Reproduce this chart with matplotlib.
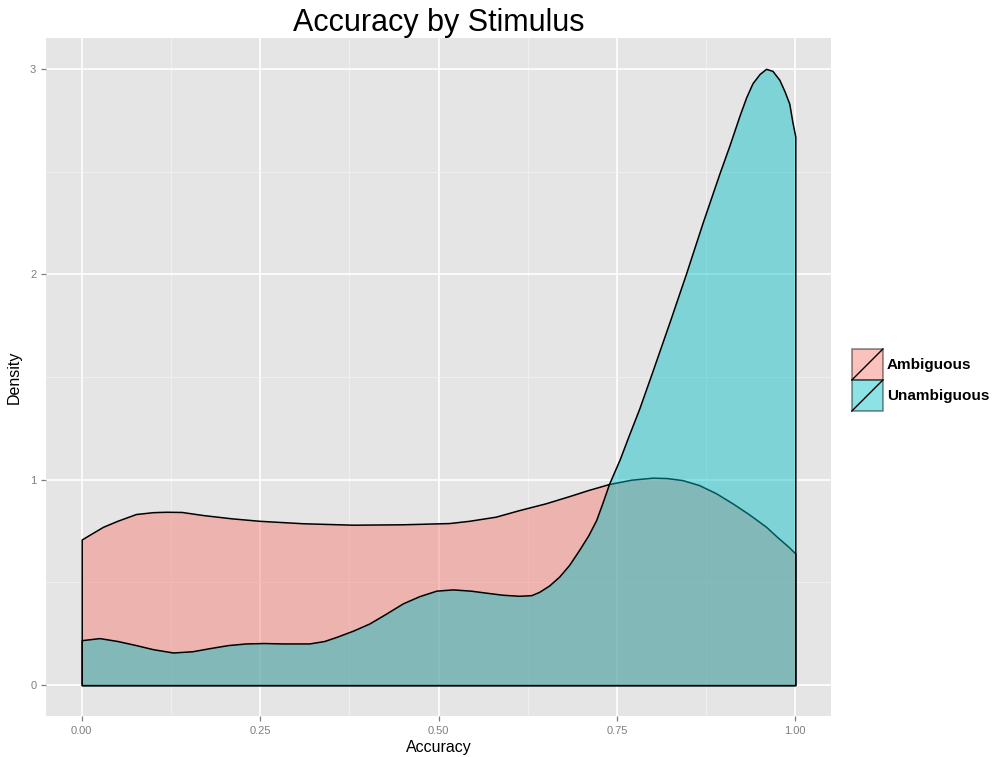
import matplotlib
matplotlib.use("Agg")
import matplotlib.pyplot as plt
from matplotlib.patches import Rectangle
from matplotlib.lines import Line2D
from matplotlib.legend_handler import HandlerBase

plt.rcParams['font.family'] = ['Liberation Sans', 'DejaVu Sans']

# values
amb_x = [0, 0.01, 0.03, 0.05, 0.076, 0.1, 0.118, 0.14, 0.17, 0.21, 0.249, 0.31, 0.38,
         0.45, 0.515, 0.543, 0.58, 0.613, 0.65, 0.683, 0.71, 0.739, 0.77, 0.80, 0.82,
         0.842, 0.865, 0.889, 0.912, 0.935, 0.959, 0.975, 0.99, 1.0]
amb_y = [0.709, 0.73, 0.771, 0.80, 0.833, 0.842, 0.844, 0.843, 0.828, 0.812, 0.80, 0.788, 0.781,
         0.783, 0.789, 0.80, 0.82, 0.852, 0.885, 0.92, 0.95, 0.979, 1.0, 1.01, 1.008,
         0.998, 0.974, 0.934, 0.885, 0.832, 0.771, 0.72, 0.675, 0.641]

unamb_x = [0, 0.025, 0.05, 0.076, 0.1, 0.128, 0.155, 0.179, 0.205, 0.23, 0.255, 0.282, 0.319,
           0.34, 0.357, 0.38, 0.403, 0.425, 0.45, 0.473, 0.497, 0.52, 0.545, 0.567, 0.59,
           0.613, 0.63, 0.641, 0.655, 0.669, 0.683, 0.697, 0.71, 0.721, 0.73, 0.739, 0.754,
           0.766, 0.7815, 0.80, 0.825, 0.847, 0.87, 0.8936, 0.908, 0.9216, 0.931, 0.94, 0.95,
           0.959, 0.968, 0.9776, 0.985, 0.9916, 0.996, 1.0]
unamb_y = [0.219, 0.229, 0.215, 0.195, 0.175, 0.159, 0.165, 0.18, 0.195, 0.203, 0.205, 0.203, 0.203,
           0.215, 0.235, 0.265, 0.30, 0.345, 0.398, 0.433, 0.46, 0.466, 0.46, 0.45, 0.44,
           0.435, 0.438, 0.454, 0.485, 0.528, 0.585, 0.658, 0.73, 0.804, 0.89, 0.98, 1.10,
           1.21, 1.348, 1.53, 1.78, 2.005, 2.25, 2.49, 2.63, 2.77, 2.86, 2.93, 2.975,
           3.0, 2.99, 2.947, 2.89, 2.83, 2.74, 2.67]

groups = ["Ambiguous", "Unambiguous"]
colors = ["#F8766D", "#00BFC4"]
x_ticks = [0, 0.25, 0.5, 0.75, 1.0]
x_labels = ["0.00", "0.25", "0.50", "0.75", "1.00"]
y_ticks = [0, 1, 2, 3]

ALPHA = 0.45


class KeyHandler(HandlerBase):
    def create_artists(self, legend, orig_handle, xdescent, ydescent, width, height, fontsize, trans):
        x0, y0 = -xdescent, -ydescent
        r = Rectangle((x0, y0), width, height, facecolor=orig_handle.get_facecolor(),
                      edgecolor=(0, 0, 0, 0.45), linewidth=1.2, transform=trans)
        ln = Line2D([x0, x0 + width], [y0, y0 + height], color="black", linewidth=1.0, transform=trans)
        return [r, ln]


fig = plt.figure(figsize=(9.94, 7.57), dpi=100)
ax = fig.add_axes([0.0463, 0.0542, 0.7897, 0.8956])
ax.set_facecolor("#E5E5E5")

handles = []
for xs, ys, c, g in zip([amb_x, unamb_x], [amb_y, unamb_y], colors, groups):
    ax.fill_between(xs, 0, ys, facecolor=matplotlib.colors.to_rgba(c, ALPHA),
                    edgecolor="black", linewidth=1.1, zorder=3)
    handles.append(Rectangle((0, 0), 1, 1, facecolor=matplotlib.colors.to_rgba(c, ALPHA), label=g))

ax.set_xlim(-0.05, 1.05)
ax.set_ylim(-0.15, 3.15)
ax.set_xticks(x_ticks)
ax.set_xticklabels(x_labels)
ax.set_yticks(y_ticks)
ax.set_xticks([0.125, 0.375, 0.625, 0.875], minor=True)
ax.set_yticks([0.5, 1.5, 2.5], minor=True)
ax.grid(which="major", color="white", linewidth=1.2, zorder=1)
ax.grid(which="minor", color="#F2F2F2", linewidth=0.6, zorder=1)
ax.set_axisbelow(True)
ax.tick_params(which="major", colors="#7F7F7F", labelsize=8, length=3.5, width=0.9)
ax.tick_params(which="minor", length=0)
for s in ax.spines.values():
    s.set_visible(False)

ax.set_xlabel("Accuracy", fontsize=11.5, labelpad=3)
ax.set_ylabel("Density", fontsize=11.5, labelpad=6)
ax.set_title("Accuracy by Stimulus", fontsize=22, pad=1)

leg = fig.legend(handles=handles, handler_map={Rectangle: KeyHandler()},
                 loc="center left", bbox_to_anchor=(0.857, 0.498), frameon=False,
                 prop={"weight": "bold", "size": 11}, handlelength=2.03, handleheight=2.745,
                 labelspacing=0.0, handletextpad=0.25, borderpad=0, borderaxespad=0)

plt.savefig("out.png", dpi=100)
